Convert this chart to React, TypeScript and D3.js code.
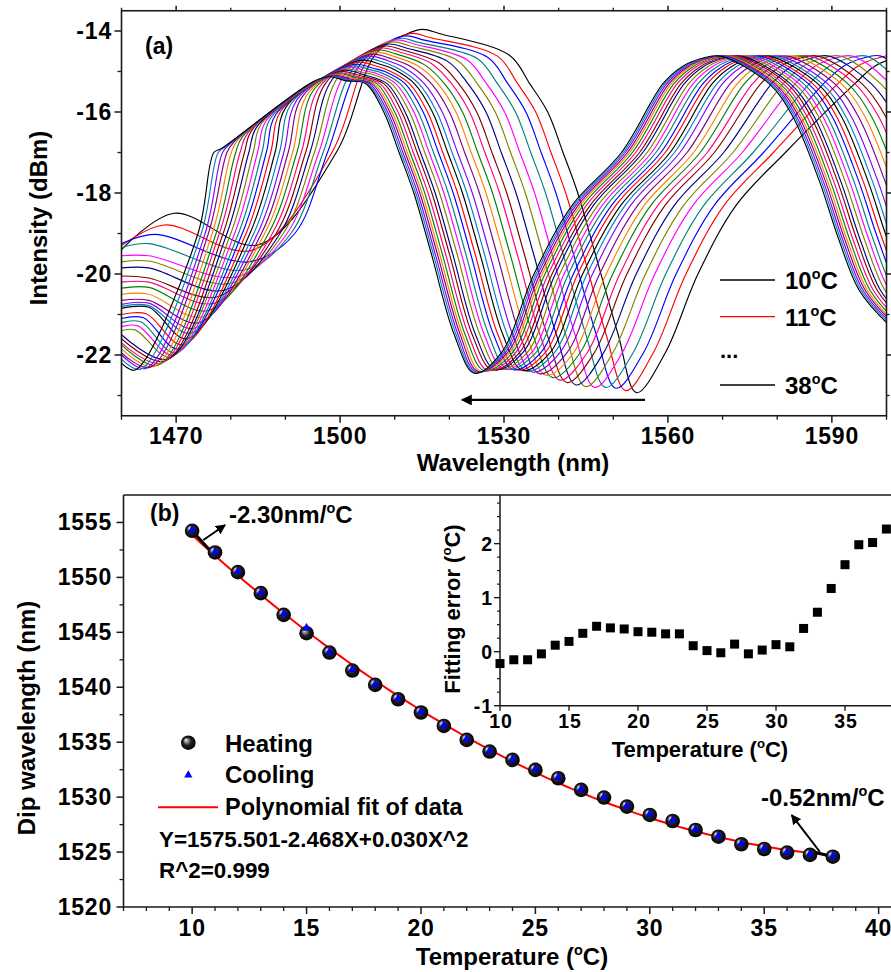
import React from 'react';
import * as d3 from 'd3';

// ---------- panel (b) data ----------
const temps = [10, 11, 12, 13, 14, 15, 16, 17, 18, 19, 20, 21, 22, 23, 24, 25, 26, 27, 28, 29, 30, 31, 32, 33, 34, 35, 36, 37, 38];
const heating = [1554.24, 1552.27, 1550.48, 1548.57, 1546.59, 1544.92, 1543.16, 1541.52, 1540.22, 1538.91, 1537.7, 1536.48, 1535.21, 1534.15, 1533.39, 1532.48, 1531.72, 1530.66, 1529.96, 1529.14, 1528.38, 1527.83, 1527.01, 1526.4, 1525.71, 1525.28, 1524.95, 1524.74, 1524.58];
const cooling = [1554.3, 1552.3, 1550.55, 1548.62, 1546.65, 1545.38, 1543.2, 1541.6, 1540.25, 1538.95, 1537.78, 1536.52, 1535.28, 1534.2, 1533.45, 1532.55, 1531.78, 1530.72, 1530.02, 1529.2, 1528.44, 1527.88, 1527.06, 1526.45, 1525.76, 1525.33, 1525.0, 1524.8, 1524.62];
const fitError = [-0.22, -0.15, -0.15, -0.04, 0.12, 0.19, 0.34, 0.47, 0.44, 0.42, 0.37, 0.36, 0.33, 0.33, 0.11, 0.02, -0.02, 0.14, -0.04, 0.03, 0.13, 0.09, 0.43, 0.73, 1.17, 1.61, 1.98, 2.02, 2.27];

// ---------- panel (a) spectrum features, one value per temperature ----------
const edgeWl = [1543.5, 1541.3, 1539.5, 1537.6, 1535.6, 1533.9, 1532.2, 1530.5, 1529.2, 1527.9, 1526.7, 1525.5, 1524.2, 1523.2, 1522.4, 1521.5, 1520.7, 1519.8, 1519.0, 1518.2, 1517.4, 1516.8, 1516.1, 1515.5, 1515.0, 1514.6, 1514.2, 1513.85, 1513.5];
const leftDb = [-19.4, -19.3, -19.25, -19.35, -19.55, -19.7, -19.85, -20.05, -20.2, -20.35, -20.5, -20.65, -20.75, -20.8, -20.85, -21.0, -21.1, -21.2, -21.3, -21.4, -21.5, -21.6, -21.7, -21.75, -21.85, -21.95, -22.0, -22.1, -22.2];
const bumpWl = [1469.6, 1467.8, 1466.1, 1465, 1465, 1465, 1465, 1465, 1465, 1465, 1465, 1465, 1465, 1465, 1465, 1464.5, 1464, 1463.5, 1463, 1462.5, 0, 0, 0, 0, 0, 0, 0, 0, 0];
const bumpDb = [-18.5, -18.79, -19.02, -19.25, -19.55, -19.68, -19.85, -20.1, -20.2, -20.33, -20.5, -20.65, -20.72, -20.78, -20.82, -20.98, -21.08, -21.18, -21.28, -21.38, 0, 0, 0, 0, 0, 0, 0, 0, 0];
const troughWl = [1485, 1484, 1483.3, 1482.4, 1481.2, 1480, 1478.8, 1477.6, 1477, 1475.9, 1474.8, 1474.2, 1473.3, 1472.7, 1472, 1471.3, 1470.5, 1470, 1469.5, 1469, 1468.5, 1468, 1467.3, 1466.7, 1466, 1465.3, 1464.5, 1463.5, 1462.5];
const troughDb = [-19.28, -19.41, -19.7, -19.9, -20.07, -20.23, -20.4, -20.56, -20.72, -20.9, -21.06, -21.2, -21.34, -21.46, -21.6, -21.75, -21.85, -21.95, -22.0, -22.05, -22.1, -22.15, -22.2, -22.25, -22.28, -22.3, -22.33, -22.35, -22.37];
const rise19Wl = [0, 0, 1491.7, 1491.0, 1490.3, 1489.6, 1489.0, 1488.3, 1487.6, 1486.9, 1486.2, 1485.6, 1484.9, 1484.2, 1483.5, 1482.8, 1482.1, 1481.4, 1480.7, 1480.0, 1479.3, 1478.6, 1477.9, 1477.3, 1476.6, 1475.9, 1475.3, 1474.6, 1474.0];
const rise17Wl = [1499.3, 1498.5, 1497.7, 1496.9, 1496.1, 1495.3, 1494.5, 1493.7, 1492.9, 1492.1, 1491.3, 1490.5, 1489.7, 1488.9, 1488.1, 1487.3, 1486.5, 1485.7, 1484.9, 1484.1, 1483.3, 1482.5, 1481.7, 1480.9, 1480.1, 1479.3, 1478.5, 1477.7, 1476.9];
// where each rising edge rounds over (on the upper-left envelope for the later curves)
const capWl = [1506.6, 1505.1, 1503.7, 1502.3, 1501.0, 1499.7, 1498.5, 1497.3, 1496.2, 1495.1, 1494.1, 1493.1, 1492.1, 1491.1, 1490.1, 1489.2, 1488.3, 1487.4, 1486.5, 1485.6, 1484.8, 1483.9, 1483.1, 1482.2, 1481.4, 1480.6, 1479.8, 1479.0, 1478.2];
const capDb = [-14.55, -14.7, -14.82, -14.94, -15.03, -15.12, -15.21, -15.3, -15.39, -15.47, -15.55, -15.62, -15.7, -15.79, -15.88, -15.97, -16.05, -16.13, -16.21, -16.29, -16.36, -16.44, -16.52, -16.6, -16.67, -16.74, -16.8, -16.86, -16.91];
const peakWl = [1515.1, 1513.4, 1512.2, 1511.3, 1510.5, 1509.8, 1509.1, 1508.5, 1507.9, 1507.3, 1506.7, 1506.1, 1505.5, 1504.9, 1504.3, 1503.7, 1503.1, 1502.6, 1502.1, 1501.6, 1501.1, 1500.6, 1500.2, 1499.8, 1499.4, 1499.0, 1498.7, 1498.4, 1498.1];
const peakDb = [-13.96, -14.06, -14.12, -14.18, -14.22, -14.27, -14.32, -14.37, -14.42, -14.47, -14.52, -14.57, -14.62, -14.67, -14.72, -14.77, -14.82, -14.86, -14.9, -14.94, -14.97, -15.0, -15.03, -15.05, -15.07, -15.09, -15.11, -15.12, -15.13];
const shoulderDb = [-14.6, -14.62, -14.65, -14.68, -14.7, -14.72, -14.75, -14.78, -14.8, -14.83, -14.86, -14.88, -14.9, -14.93, -14.95, -14.98, -15.0, -15.02, -15.04, -15.06, -15.08, -15.1, -15.12, -15.13, -15.14, -15.15, -15.16, -15.17, -15.18];
const dipDb = [-22.93, -22.88, -22.82, -22.8, -22.8, -22.78, -22.74, -22.68, -22.62, -22.56, -22.5, -22.46, -22.42, -22.4, -22.38, -22.37, -22.36, -22.35, -22.35, -22.35, -22.36, -22.37, -22.38, -22.39, -22.4, -22.41, -22.42, -22.44, -22.45];
const topOffset = [50.7, 49.8, 49.0, 48.3, 47.7, 47.2, 46.8, 46.5, 46.3, 46.1, 46.0, 45.9, 45.8, 45.8, 45.7, 45.7, 45.7, 45.7, 45.6, 45.6, 45.6, 45.6, 45.6, 45.6, 45.6, 45.6, 45.6, 45.6, 45.6];

// shared shapes
const peakShape = [[-3, -0.12], [0, 0], [3, -0.1]];
const fallShape = [[-8.8, -15.3], [-5.5, -16.0], [-2.7, -17.0], [0, -18.0], [3.2, -19.5], [7.4, -21.5]];
const riseShape = [[16, -21.95], [22, -20.0], [29, -18.3], [38, -17.0]];
const topShape = [[0, -15.3], [3.5, -14.88], [7, -14.68], [10.5, -14.62]];
const tailShape = [[65, -15.3], [69.3, -16.1], [74.2, -17.7], [77.8, -19.16], [81.5, -20.4], [86.5, -21.2], [92, -21.8]];

const colors = ['#000000', '#FF0000', '#0000FF', '#008080', '#FF00FF', '#808000', '#000080', '#800000', '#FF0080', '#008000', '#FF8000', '#800080', '#8000FF', '#0080C0'];

const aTicksX = [1470, 1500, 1530, 1560, 1590];
const aTicksY = [-22, -20, -18, -16, -14];
const bTicksX = [10, 15, 20, 25, 30, 35, 40];
const bTicksY = [1520, 1525, 1530, 1535, 1540, 1545, 1550, 1555];
const inTicksX = [10, 15, 20, 25, 30, 35];
const inTicksY = [-1, 0, 1, 2];

const FONT = 'Arial, "Liberation Sans", Helvetica, sans-serif';
const AX = '#1a1a1a';

const xA = d3.scaleLinear().domain([1460, 1600]).range([121.5, 886.5]);
const yA = d3.scaleLinear().domain([-23.5, -13.5]).range([415.75, 10.75]);
const xB = d3.scaleLinear().domain([7, 41]).range([123.5, 901.5]);
const yB = d3.scaleLinear().domain([1520, 1557.5]).range([907, 495]);
const xI = d3.scaleLinear().domain([10, 39]).range([500, 900.2]);
const yI = d3.scaleLinear().domain([-1, 2.9]).range([705.7, 495]);

// least-squares quadratic through the heating points (the red fit line)
function quadFit(xs: number[], ys: number[]): number[] {
  const s = [0, 0, 0, 0, 0];
  const t = [0, 0, 0];
  xs.forEach((x, k) => {
    for (let p = 0; p < 5; p++) s[p] += Math.pow(x, p);
    for (let p = 0; p < 3; p++) t[p] += ys[k] * Math.pow(x, p);
  });
  const m = [[s[0], s[1], s[2], t[0]], [s[1], s[2], s[3], t[1]], [s[2], s[3], s[4], t[2]]];
  for (let c = 0; c < 3; c++) {
    for (let r = c + 1; r < 3; r++) {
      const f = m[r][c] / m[c][c];
      for (let k = c; k < 4; k++) m[r][k] -= f * m[c][k];
    }
  }
  const out = [0, 0, 0];
  for (let r = 2; r >= 0; r--) {
    let v = m[r][3];
    for (let k = r + 1; k < 3; k++) v -= m[r][k] * out[k];
    out[r] = v / m[r][r];
  }
  return out;
}
const fitCoef = quadFit(temps, heating);

function spectrum(i: number): [number, number][] {
  const pts: [number, number][] = [];
  const push = (w: number, v: number) => {
    if (pts.length === 0 || w > pts[pts.length - 1][0] + 0.3) pts.push([w, v]);
  };
  push(1460, leftDb[i]);
  if (bumpWl[i] > 1460.5 && bumpWl[i] < troughWl[i] - 1) push(bumpWl[i], bumpDb[i]);
  push(troughWl[i], troughDb[i]);
  if (rise19Wl[i] > troughWl[i] + 1) push(rise19Wl[i], -19);
  push(rise17Wl[i], -17);
  push(capWl[i], capDb[i]);
  peakShape.forEach(([o, v]) => push(peakWl[i] + o, peakDb[i] + v));
  const e = edgeWl[i];
  if (e - 12.5 > peakWl[i] + 4) push(e - 12.5, shoulderDb[i]);
  fallShape.forEach(([o, v]) => push(e + o, v));
  push(heating[i], dipDb[i]);
  riseShape.forEach(([o, v]) => push(e + o, v));
  topShape.forEach(([o, v]) => push(e + topOffset[i] + o, v));
  tailShape.forEach(([o, v]) => push(e + o, v));
  return pts;
}

const specLine = d3.line<[number, number]>().x(d => xA(d[0])).y(d => yA(d[1])).curve(d3.curveCatmullRom.alpha(0.5));
const bLine = d3.line<[number, number]>().x(d => xB(d[0])).y(d => yB(d[1]));

const Deg = ({ size }: { size: number }) => (
  <>
    <tspan dy={-size * 0.4} fontSize={size * 0.6}>o</tspan>
    <tspan dy={size * 0.4}>C</tspan>
  </>
);

export default function App() {
  const minorA_X = d3.range(1460, 1601, 10).filter(v => !aTicksX.includes(v));
  const minorA_Y = d3.range(-23, -13, 1).filter(v => !aTicksY.includes(v));
  const minorB_X = d3.range(7, 41, 1).filter(v => !bTicksX.includes(v));
  const minorB_Y = d3.range(1522.5, 1557.5, 5);
  const minorI_Y = d3.range(-1, 2.9, 0.25).filter(v => Math.abs(v - Math.round(v)) > 0.01);
  const fitPts: [number, number][] = d3.range(10, 38.01, 0.25).map(t => [t, fitCoef[0] + fitCoef[1] * t + fitCoef[2] * t * t]);
  const tri = d3.symbol(d3.symbolTriangle, 30)();

  return (
    <svg width={891} height={972} style={{ position: 'absolute', left: 0, top: 0, background: '#fff' }}
      fontFamily={FONT} fontWeight="bold">
      <defs>
        <clipPath id="clipA"><rect x={xA(1460)} y={yA(-13.5)} width={xA(1600) - xA(1460)} height={yA(-23.5) - yA(-13.5)} /></clipPath>
        <radialGradient id="sph" cx="0.5" cy="0.5" r="0.5" fx="0.32" fy="0.3">
          <stop offset="0" stopColor="#f4f4f4" />
          <stop offset="0.22" stopColor="#a0a0a0" />
          <stop offset="0.55" stopColor="#222" />
          <stop offset="1" stopColor="#000" />
        </radialGradient>
        <marker id="arr" viewBox="0 0 10 10" refX="9" refY="5" markerWidth="5" markerHeight="5" orient="auto-start-reverse">
          <path d="M0,0 L10,5 L0,10 z" fill="#000" />
        </marker>
      </defs>

      {/* ================= panel (a) ================= */}
      <g clipPath="url(#clipA)">
        {temps.map((t, i) => (
          <path key={t} d={specLine(spectrum(i)) || ''} fill="none" stroke={colors[i % colors.length]} strokeWidth={1.15} />
        ))}
      </g>
      <rect x={xA(1460)} y={yA(-13.5)} width={xA(1600) - xA(1460)} height={yA(-23.5) - yA(-13.5)} fill="none" stroke={AX} strokeWidth={1.6} />
      {aTicksX.map(v => (
        <g key={v}>
          <line x1={xA(v)} x2={xA(v)} y1={yA(-23.5)} y2={yA(-23.5) + 7} stroke={AX} strokeWidth={1.5} />
          <line x1={xA(v)} x2={xA(v)} y1={yA(-13.5)} y2={yA(-13.5) - 5} stroke={AX} strokeWidth={1.5} />
          <text x={xA(v)} y={444} textAnchor="middle" fontSize={23} letterSpacing={0.8}>{v}</text>
        </g>
      ))}
      {minorA_X.map(v => (
        <g key={v}>
          <line x1={xA(v)} x2={xA(v)} y1={yA(-23.5)} y2={yA(-23.5) + 4} stroke={AX} strokeWidth={1.3} />
          <line x1={xA(v)} x2={xA(v)} y1={yA(-13.5)} y2={yA(-13.5) - 3} stroke={AX} strokeWidth={1.3} />
        </g>
      ))}
      {aTicksY.map(v => (
        <g key={v}>
          <line x1={xA(1460) - 7} x2={xA(1460)} y1={yA(v)} y2={yA(v)} stroke={AX} strokeWidth={1.5} />
          <line x1={xA(1600)} x2={xA(1600) + 5} y1={yA(v)} y2={yA(v)} stroke={AX} strokeWidth={1.5} />
          <text x={112} y={yA(v) + 8} textAnchor="end" fontSize={23} letterSpacing={0.8}>{v}</text>
        </g>
      ))}
      {minorA_Y.map(v => (
        <g key={v}>
          <line x1={xA(1460) - 4} x2={xA(1460)} y1={yA(v)} y2={yA(v)} stroke={AX} strokeWidth={1.3} />
          <line x1={xA(1600)} x2={xA(1600) + 3} y1={yA(v)} y2={yA(v)} stroke={AX} strokeWidth={1.3} />
        </g>
      ))}
      <text x={513} y={471} textAnchor="middle" fontSize={24}>Wavelength (nm)</text>
      <text transform="translate(47,218) rotate(-90)" textAnchor="middle" fontSize={24}>Intensity (dBm)</text>
      <text x={145} y={54} fontSize={23}>(a)</text>

      {/* legend (a) */}
      <line x1={720} x2={775} y1={280} y2={280} stroke={colors[0]} strokeWidth={1.3} />
      <text x={785} y={289} fontSize={24}>10<Deg size={24} /></text>
      <line x1={720} x2={775} y1={316.7} y2={316.7} stroke={colors[1]} strokeWidth={1.3} />
      <text x={785} y={326} fontSize={24}>11<Deg size={24} /></text>
      <text x={720} y={358} fontSize={22}>...</text>
      <line x1={720} x2={775} y1={385} y2={385} stroke={colors[28 % colors.length]} strokeWidth={1.3} />
      <text x={785} y={394} fontSize={24}>38<Deg size={24} /></text>
      <line x1={xA(1555.8)} x2={xA(1522.3)} y1={yA(-23.11)} y2={yA(-23.11)} stroke="#000" strokeWidth={2.2} markerEnd="url(#arr)" />

      {/* ================= panel (b) ================= */}
      <line x1={xB(7)} x2={891} y1={yB(1557.5)} y2={yB(1557.5)} stroke={AX} strokeWidth={1.6} />
      <line x1={xB(7)} x2={xB(7)} y1={yB(1557.5)} y2={yB(1520)} stroke={AX} strokeWidth={1.6} />
      <line x1={xB(7)} x2={891} y1={yB(1520)} y2={yB(1520)} stroke={AX} strokeWidth={1.6} />
      {bTicksX.map(v => (
        <g key={v}>
          <line x1={xB(v)} x2={xB(v)} y1={yB(1520)} y2={yB(1520) + 7} stroke={AX} strokeWidth={1.5} />
          <text x={xB(v)} y={936} textAnchor="middle" fontSize={23} letterSpacing={0.8}>{v}</text>
        </g>
      ))}
      {minorB_X.map(v => (
        <line key={v} x1={xB(v)} x2={xB(v)} y1={yB(1520)} y2={yB(1520) + 4} stroke={AX} strokeWidth={1.3} />
      ))}
      {bTicksY.map(v => (
        <g key={v}>
          <line x1={xB(7) - 7} x2={xB(7)} y1={yB(v)} y2={yB(v)} stroke={AX} strokeWidth={1.5} />
          <text x={112} y={yB(v) + 8} textAnchor="end" fontSize={23} letterSpacing={0.8}>{v}</text>
        </g>
      ))}
      {minorB_Y.map(v => (
        <line key={v} x1={xB(7) - 4} x2={xB(7)} y1={yB(v)} y2={yB(v)} stroke={AX} strokeWidth={1.3} />
      ))}
      <text x={512} y={965} textAnchor="middle" fontSize={24}>Temperature (<Deg size={24} />)</text>
      <text transform="translate(35,718) rotate(-90)" textAnchor="middle" fontSize={24}>Dip wavelength (nm)</text>
      <text x={150} y={521} fontSize={23}>(b)</text>

      <path d={bLine(fitPts) || ''} fill="none" stroke="#FF0000" strokeWidth={2} />
      <line x1={xB(10)} y1={yB(heating[0])} x2={xB(11)} y2={yB(heating[0] - 2.3)} stroke="#000" strokeWidth={3} />
      <line x1={xB(37)} y1={yB(heating[28] + 0.52)} x2={xB(38)} y2={yB(heating[28])} stroke="#000" strokeWidth={3} />
      {temps.map((t, i) => (
        <circle key={t} cx={xB(t)} cy={yB(heating[i])} r={7.3} fill="url(#sph)" />
      ))}
      {temps.map((t, i) => (
        <path key={t} d={tri || ''} transform={`translate(${xB(t)},${yB(cooling[i])})`} fill="#0000FF" stroke="#000060" strokeWidth={0.4} />
      ))}
      <line x1={xB(10.49)} y1={yB(1553.4)} x2={xB(11.44)} y2={yB(1554.77)} stroke="#000" strokeWidth={2} markerEnd="url(#arr)" />
      <text x={229} y={523} fontSize={24}>-2.30nm/<Deg size={24} /></text>
      <line x1={xB(37.43)} y1={yB(1525.03)} x2={xB(36.2)} y2={yB(1528.37)} stroke="#000" strokeWidth={2} markerEnd="url(#arr)" />
      <text x={761} y={806} fontSize={24}>-0.52nm/<Deg size={24} /></text>

      {/* legend (b) */}
      <circle cx={188.3} cy={742.7} r={7.3} fill="url(#sph)" />
      <text x={225} y={752} fontSize={24}>Heating</text>
      <path d={tri || ''} transform="translate(188.3,775)" fill="#0000FF" />
      <text x={225} y={783} fontSize={24}>Cooling</text>
      <line x1={158} x2={218} y1={807.3} y2={807.3} stroke="#FF0000" strokeWidth={2} />
      <text x={225} y={815} fontSize={23.5}>Polynomial fit of data</text>
      <text x={159} y={847} fontSize={22.4}>Y=1575.501-2.468X+0.030X^2</text>
      <text x={159} y={878} fontSize={22.4}>R^2=0.999</text>

      {/* ================= inset ================= */}
      <line x1={xI(10)} x2={xI(10)} y1={yI(2.9)} y2={yI(-1)} stroke={AX} strokeWidth={1.5} />
      <line x1={xI(10)} x2={891} y1={yI(-1)} y2={yI(-1)} stroke={AX} strokeWidth={1.5} />
      {inTicksY.map(v => (
        <g key={v}>
          <line x1={xI(10) - 6} x2={xI(10)} y1={yI(v)} y2={yI(v)} stroke={AX} strokeWidth={1.4} />
          <text x={493} y={yI(v) + 7} textAnchor="end" fontSize={19.5} letterSpacing={1}>{v}</text>
        </g>
      ))}
      {minorI_Y.map(v => (
        <line key={v} x1={xI(10) - 3} x2={xI(10)} y1={yI(v)} y2={yI(v)} stroke={AX} strokeWidth={1.2} />
      ))}
      {inTicksX.map(v => (
        <g key={v}>
          <line x1={xI(v)} x2={xI(v)} y1={yI(-1)} y2={yI(-1) + 5} stroke={AX} strokeWidth={1.4} />
          <text x={xI(v) + 1} y={728} textAnchor="middle" fontSize={19.5} letterSpacing={1}>{v}</text>
        </g>
      ))}
      {temps.map((t, i) => (
        <rect key={t} x={xI(t) - 4.5} y={yI(fitError[i]) - 4.5} width={9} height={9} fill="#000" />
      ))}
      <text x={700} y={757} textAnchor="middle" fontSize={22}>Temperature (<Deg size={22} />)</text>
      <text transform="translate(460,609) rotate(-90)" textAnchor="middle" fontSize={22}>Fitting error (<Deg size={22} />)</text>
    </svg>
  );
}
